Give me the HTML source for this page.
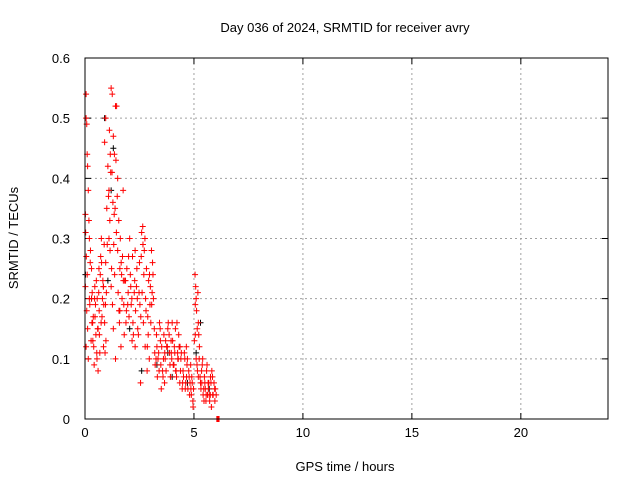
<!DOCTYPE html>
<html><head><meta charset="utf-8"><style>
body{margin:0;background:#fff;width:640px;height:480px;overflow:hidden}
svg text{font-family:"Liberation Sans",sans-serif;font-size:13px;fill:#000}
</style></head><body>
<svg id="chart" width="640" height="480" xmlns="http://www.w3.org/2000/svg"></svg>
<script>
const xTicks=[0,5,10,15,20];
const yTicks=[0,0.1,0.2,0.3,0.4,0.5,0.6];
const yTickLabels=["0","0.1","0.2","0.3","0.4","0.5","0.6"];
const redX=[0.02,0.05,0.05,0.08,0.1,0.12,0.03,0.06,0.1,0.15,0.18,0.2,0.02,0.08,0.12,0.05,0.15,0.2,0.25,0.3,0.35,0.4,0.45,0.5,0.55,0.6,0.65,0.7,0.75,0.8,0.85,0.9,0.95,1.0,1.05,1.1,0.9,0.95,1.2,1.25,1.3,1.35,1.4,1.45,1.5,1.1,1.2,1.3,1.4,1.5,1.55,1.6,1.7,1.8,1.9,2.0,2.1,2.2,2.3,2.4,2.5,2.6,2.7,2.8,2.9,3.0,3.1,3.2,2.65,2.75,2.85,2.95,3.05,1.75,2.05,2.3,1.65,2.55,3.3,3.4,3.5,3.6,3.7,3.8,3.9,4.0,4.1,4.2,4.3,4.4,3.45,3.65,3.95,4.15,4.35,4.5,4.6,4.7,4.8,4.9,4.95,4.65,4.85,5.05,5.1,5.12,5.15,5.2,5.25,5.1,5.2,5.35,5.45,5.55,5.65,5.75,5.85,5.95,5.4,5.6,5.8,5.5,6.05,6.1,6.15,0.3,0.6,0.85,1.15,1.6,2.15,2.45,3.35,3.75,4.05,4.25,5.3,5.7,
0.22,0.28,0.33,0.38,0.42,0.48,0.52,0.58,0.63,0.68,0.72,0.78,0.82,0.88,0.92,0.98,0.24,0.36,0.46,0.56,0.66,0.76,0.86,0.96,0.32,0.44,0.54,0.64,0.74,0.84,0.94,1.02,1.08,1.14,1.18,1.22,1.28,1.32,1.38,1.42,1.48,1.12,1.24,1.34,1.44,1.26,1.36,1.16,
1.52,1.58,1.62,1.68,1.72,1.78,1.82,1.88,1.92,1.98,2.02,2.08,2.12,2.18,2.22,2.28,2.32,2.38,2.42,2.48,2.52,2.58,2.62,2.68,2.72,2.78,2.82,2.88,2.92,2.98,3.02,3.08,3.12,3.18,1.56,1.76,1.96,2.16,2.36,2.56,2.76,2.96,3.14,1.66,1.86,2.26,2.66,2.86,3.06,
3.22,3.28,3.32,3.38,3.42,3.48,3.52,3.58,3.62,3.68,3.72,3.78,3.82,3.88,3.92,3.98,4.02,4.08,4.12,4.18,4.22,4.28,4.32,4.38,4.42,4.48,3.26,3.46,3.66,3.86,4.06,4.26,4.46,3.56,3.76,3.96,4.16,4.36,
4.52,4.58,4.62,4.68,4.72,4.78,4.82,4.88,4.92,4.98,4.56,4.76,4.96,4.66,4.86,
5.02,5.06,5.08,5.14,5.18,5.22,5.16,5.06,5.24,5.28,5.32,5.38,5.42,5.48,5.52,5.58,5.62,5.68,5.72,5.78,5.82,5.88,5.92,5.98,6.02,5.36,5.56,5.76,5.96,5.46,5.66,5.86,6.08,6.12];
const redY=[0.34,0.54,0.5,0.49,0.44,0.42,0.31,0.27,0.24,0.38,0.33,0.3,0.22,0.18,0.15,0.12,0.1,0.2,0.28,0.25,0.16,0.12,0.22,0.14,0.1,0.08,0.18,0.24,0.3,0.2,0.12,0.16,0.26,0.35,0.42,0.38,0.46,0.5,0.55,0.54,0.47,0.44,0.52,0.52,0.4,0.3,0.22,0.15,0.1,0.28,0.33,0.25,0.2,0.14,0.18,0.27,0.22,0.16,0.12,0.2,0.26,0.31,0.24,0.18,0.14,0.22,0.26,0.11,0.32,0.3,0.08,0.1,0.28,0.38,0.3,0.28,0.12,0.06,0.12,0.08,0.05,0.1,0.13,0.15,0.09,0.16,0.12,0.07,0.14,0.1,0.15,0.06,0.13,0.15,0.06,0.08,0.05,0.1,0.04,0.07,0.03,0.12,0.09,0.24,0.2,0.18,0.15,0.16,0.12,0.1,0.07,0.08,0.05,0.03,0.06,0.04,0.07,0.05,0.1,0.09,0.02,0.06,0,0,0,0.2,0.15,0.22,0.28,0.18,0.2,0.14,0.1,0.12,0.09,0.11,0.06,0.04,
0.19,0.13,0.21,0.17,0.09,0.19,0.23,0.15,0.21,0.11,0.27,0.17,0.23,0.29,0.11,0.21,0.26,0.13,0.17,0.2,0.14,0.26,0.19,0.13,0.16,0.2,0.11,0.25,0.16,0.22,0.19,0.29,0.37,0.33,0.41,0.25,0.36,0.29,0.35,0.43,0.37,0.48,0.41,0.34,0.31,0.19,0.24,0.44,
0.21,0.16,0.3,0.24,0.27,0.19,0.23,0.16,0.25,0.21,0.17,0.24,0.19,0.27,0.14,0.23,0.18,0.25,0.15,0.21,0.19,0.27,0.21,0.16,0.28,0.2,0.25,0.17,0.23,0.19,0.16,0.21,0.24,0.15,0.18,0.23,0.19,0.13,0.22,0.17,0.12,0.24,0.2,0.26,0.23,0.21,0.29,0.12,0.19,
0.09,0.14,0.07,0.11,0.16,0.09,0.12,0.07,0.14,0.1,0.08,0.12,0.16,0.11,0.07,0.1,0.13,0.09,0.11,0.08,0.16,0.1,0.12,0.08,0.11,0.06,0.1,0.13,0.11,0.14,0.09,0.1,0.05,0.08,0.12,0.11,0.08,0.12,
0.07,0.1,0.06,0.09,0.05,0.07,0.06,0.04,0.06,0.05,0.11,0.08,0.02,0.07,0.05,
0.13,0.19,0.22,0.09,0.21,0.14,0.08,0.14,0.1,0.07,0.05,0.09,0.04,0.07,0.05,0.08,0.04,0.06,0.03,0.06,0.08,0.04,0.06,0.05,0.04,0.06,0.04,0.07,0.03,0.03,0.05,0.04,0,0];
const blackX=[0.02,1.2,0.9,1.3,2.6,4.0,5.3,5.7,3.8,0.3,1.05,2.05,3.3,4.7,5.1];
const blackY=[0.24,0.38,0.5,0.45,0.08,0.07,0.16,0.05,0.11,0.2,0.23,0.15,0.09,0.06,0.11];
const L=85,R=608,T=58,B=419;
const sx=v=>L+(v/24)*(R-L);
const sy=v=>B-(v/0.6)*(B-T);
const svg=document.getElementById('chart');
const NS='http://www.w3.org/2000/svg';
function mk(tag,attrs,parent){const e=document.createElementNS(NS,tag);for(const k in attrs)e.setAttribute(k,attrs[k]);(parent||svg).appendChild(e);return e;}
const grid=mk('g',{});


xTicks.forEach(t=>{const x=sx(t);
 if(t>0){const g=mk('line',{x1:x,x2:x,y1:T,y2:B,stroke:'#a0a0a0','stroke-dasharray':'2,3','stroke-width':1},grid);}
 const tk=mk('path',{d:`M${x},${B}v-6M${x},${T}v6`,stroke:'#000'});
 
 
 const tx=mk('text',{x:x,y:B+18,'text-anchor':'middle'});tx.textContent=t;
 
 
});
yTicks.forEach((t,i)=>{const y=sy(t);
 if(t>0&&t<0.6){const g=mk('line',{x1:L,x2:R,y1:y,y2:y,stroke:'#a0a0a0','stroke-dasharray':'2,3','stroke-width':1},grid);}
 const tk=mk('path',{d:`M${L},${y}h6M${R},${y}h-6`,stroke:'#000'});
 
 
 const tx=mk('text',{x:L-15,y:y+5,'text-anchor':'end'});tx.textContent=yTickLabels[i];
 
 
});
function plus(x,y,c,name){const p=mk('path',{d:`M${sx(x)-3},${sy(y)}h6M${sx(x)},${sy(y)-3}v6`,stroke:c,'stroke-width':1});
 
 }
blackX.forEach((x,i)=>plus(x,blackY[i],'#000','black-point'));
redX.forEach((x,i)=>plus(x,redY[i],'#f00','red-point'));
const fr=mk('rect',{x:L,y:T,width:R-L,height:B-T,fill:'none',stroke:'#000'});


const ti=mk('text',{x:345,y:32,'text-anchor':'middle'});ti.textContent='Day 036 of 2024, SRMTID for receiver avry';


const xl=mk('text',{x:345,y:471,'text-anchor':'middle'});xl.textContent='GPS time / hours';


const yl=mk('text',{x:0,y:0,'text-anchor':'middle',transform:'translate(18,238) rotate(-90)'});yl.textContent='SRMTID / TECUs';


</script>
</body></html>
